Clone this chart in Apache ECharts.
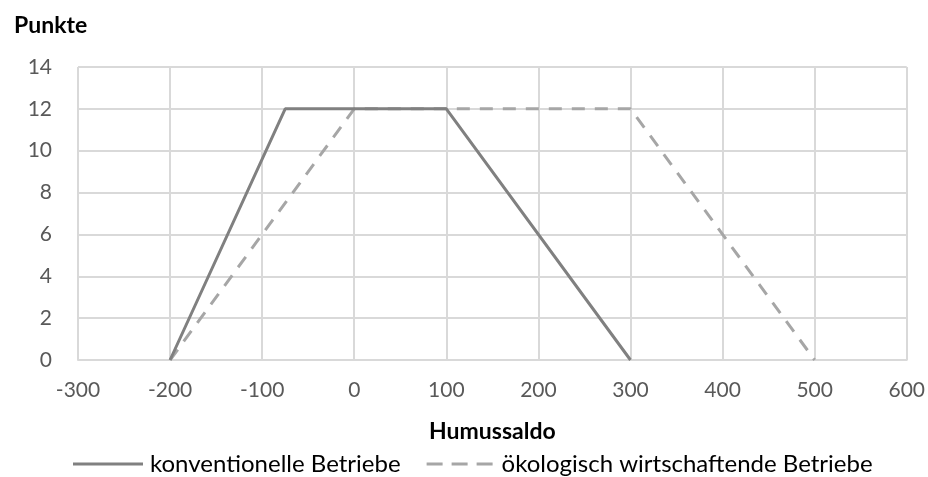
<!DOCTYPE html>
<html>
<head>
<meta charset="utf-8">
<script src="https://cdn.jsdelivr.net/npm/echarts@6/dist/echarts.min.js"></script>
<style>html,body{margin:0;padding:0;background:#fff;}#c{width:928px;height:477px;}</style>
</head>
<body>
<div id="c"></div>
<script>
var konvX = [-200, -75, 100, 300];
var konvY = [0, 12, 12, 0];
var oekoX = [-200, 0, 300, 500];
var oekoY = [0, 12, 12, 0];
var seriesNames = ['konventionelle Betriebe', 'ökologisch wirtschaftende Betriebe'];
var yTitle = 'Punkte';
var xTitle = 'Humussaldo';

function pairs(xs, ys) { return xs.map(function (x, i) { return [x, ys[i]]; }); }

var font = 'Lato, "Open Sans", sans-serif';
var chart = echarts.init(document.getElementById('c'));
chart.setOption({
  animation: false,
  textStyle: { fontFamily: font },
  title: {
    text: yTitle, left: 9, top: 9,
    textStyle: { fontFamily: font, fontSize: 23, fontWeight: 'bold', color: '#000' }
  },
  grid: { left: 78, right: 20, top: 67, bottom: 117 },
  xAxis: {
    type: 'value', min: -300, max: 600, interval: 100,
    name: xTitle, nameLocation: 'middle', nameGap: 60,
    nameTextStyle: { fontFamily: font, fontSize: 23, fontWeight: 'bold', color: '#000' },
    axisLine: { show: true, lineStyle: { color: '#d9d9d9', width: 2 } },
    axisTick: { show: false },
    axisLabel: { color: '#595959', fontSize: 21, margin: 20 },
    splitLine: { show: true, lineStyle: { color: '#d9d9d9', width: 2 } }
  },
  yAxis: {
    type: 'value', min: 0, max: 14, interval: 2,
    axisLine: { show: false },
    axisTick: { show: false },
    axisLabel: { color: '#595959', fontSize: 21, margin: 26 },
    splitLine: { show: true, lineStyle: { color: '#d9d9d9', width: 2 } }
  },
  legend: {
    left: 68, top: 447, itemWidth: 70, itemHeight: 3, itemGap: 26,
    textStyle: { fontFamily: font, fontSize: 24, color: '#000', padding: [0, 0, 0, 2] },
    data: [
      { name: seriesNames[0], icon: 'path://M0,0H70V3H0Z', itemStyle: { color: '#808080' } },
      { name: seriesNames[1], icon: 'path://M0,0H16V3H0Z M25,0H41V3H25Z M50,0H66V3H50Z', itemStyle: { color: '#a6a6a6' } }
    ]
  },
  series: [
    {
      name: seriesNames[0], type: 'line', data: pairs(konvX, konvY),
      symbol: 'none', lineStyle: { color: '#808080', width: 3 },
      itemStyle: { color: '#808080' }, z: 3
    },
    {
      name: seriesNames[1], type: 'line', data: pairs(oekoX, oekoY),
      symbol: 'none', lineStyle: { color: '#a6a6a6', width: 3, type: [13, 10] },
      itemStyle: { color: '#a6a6a6' }, z: 2
    }
  ]
});
</script>
</body>
</html>
